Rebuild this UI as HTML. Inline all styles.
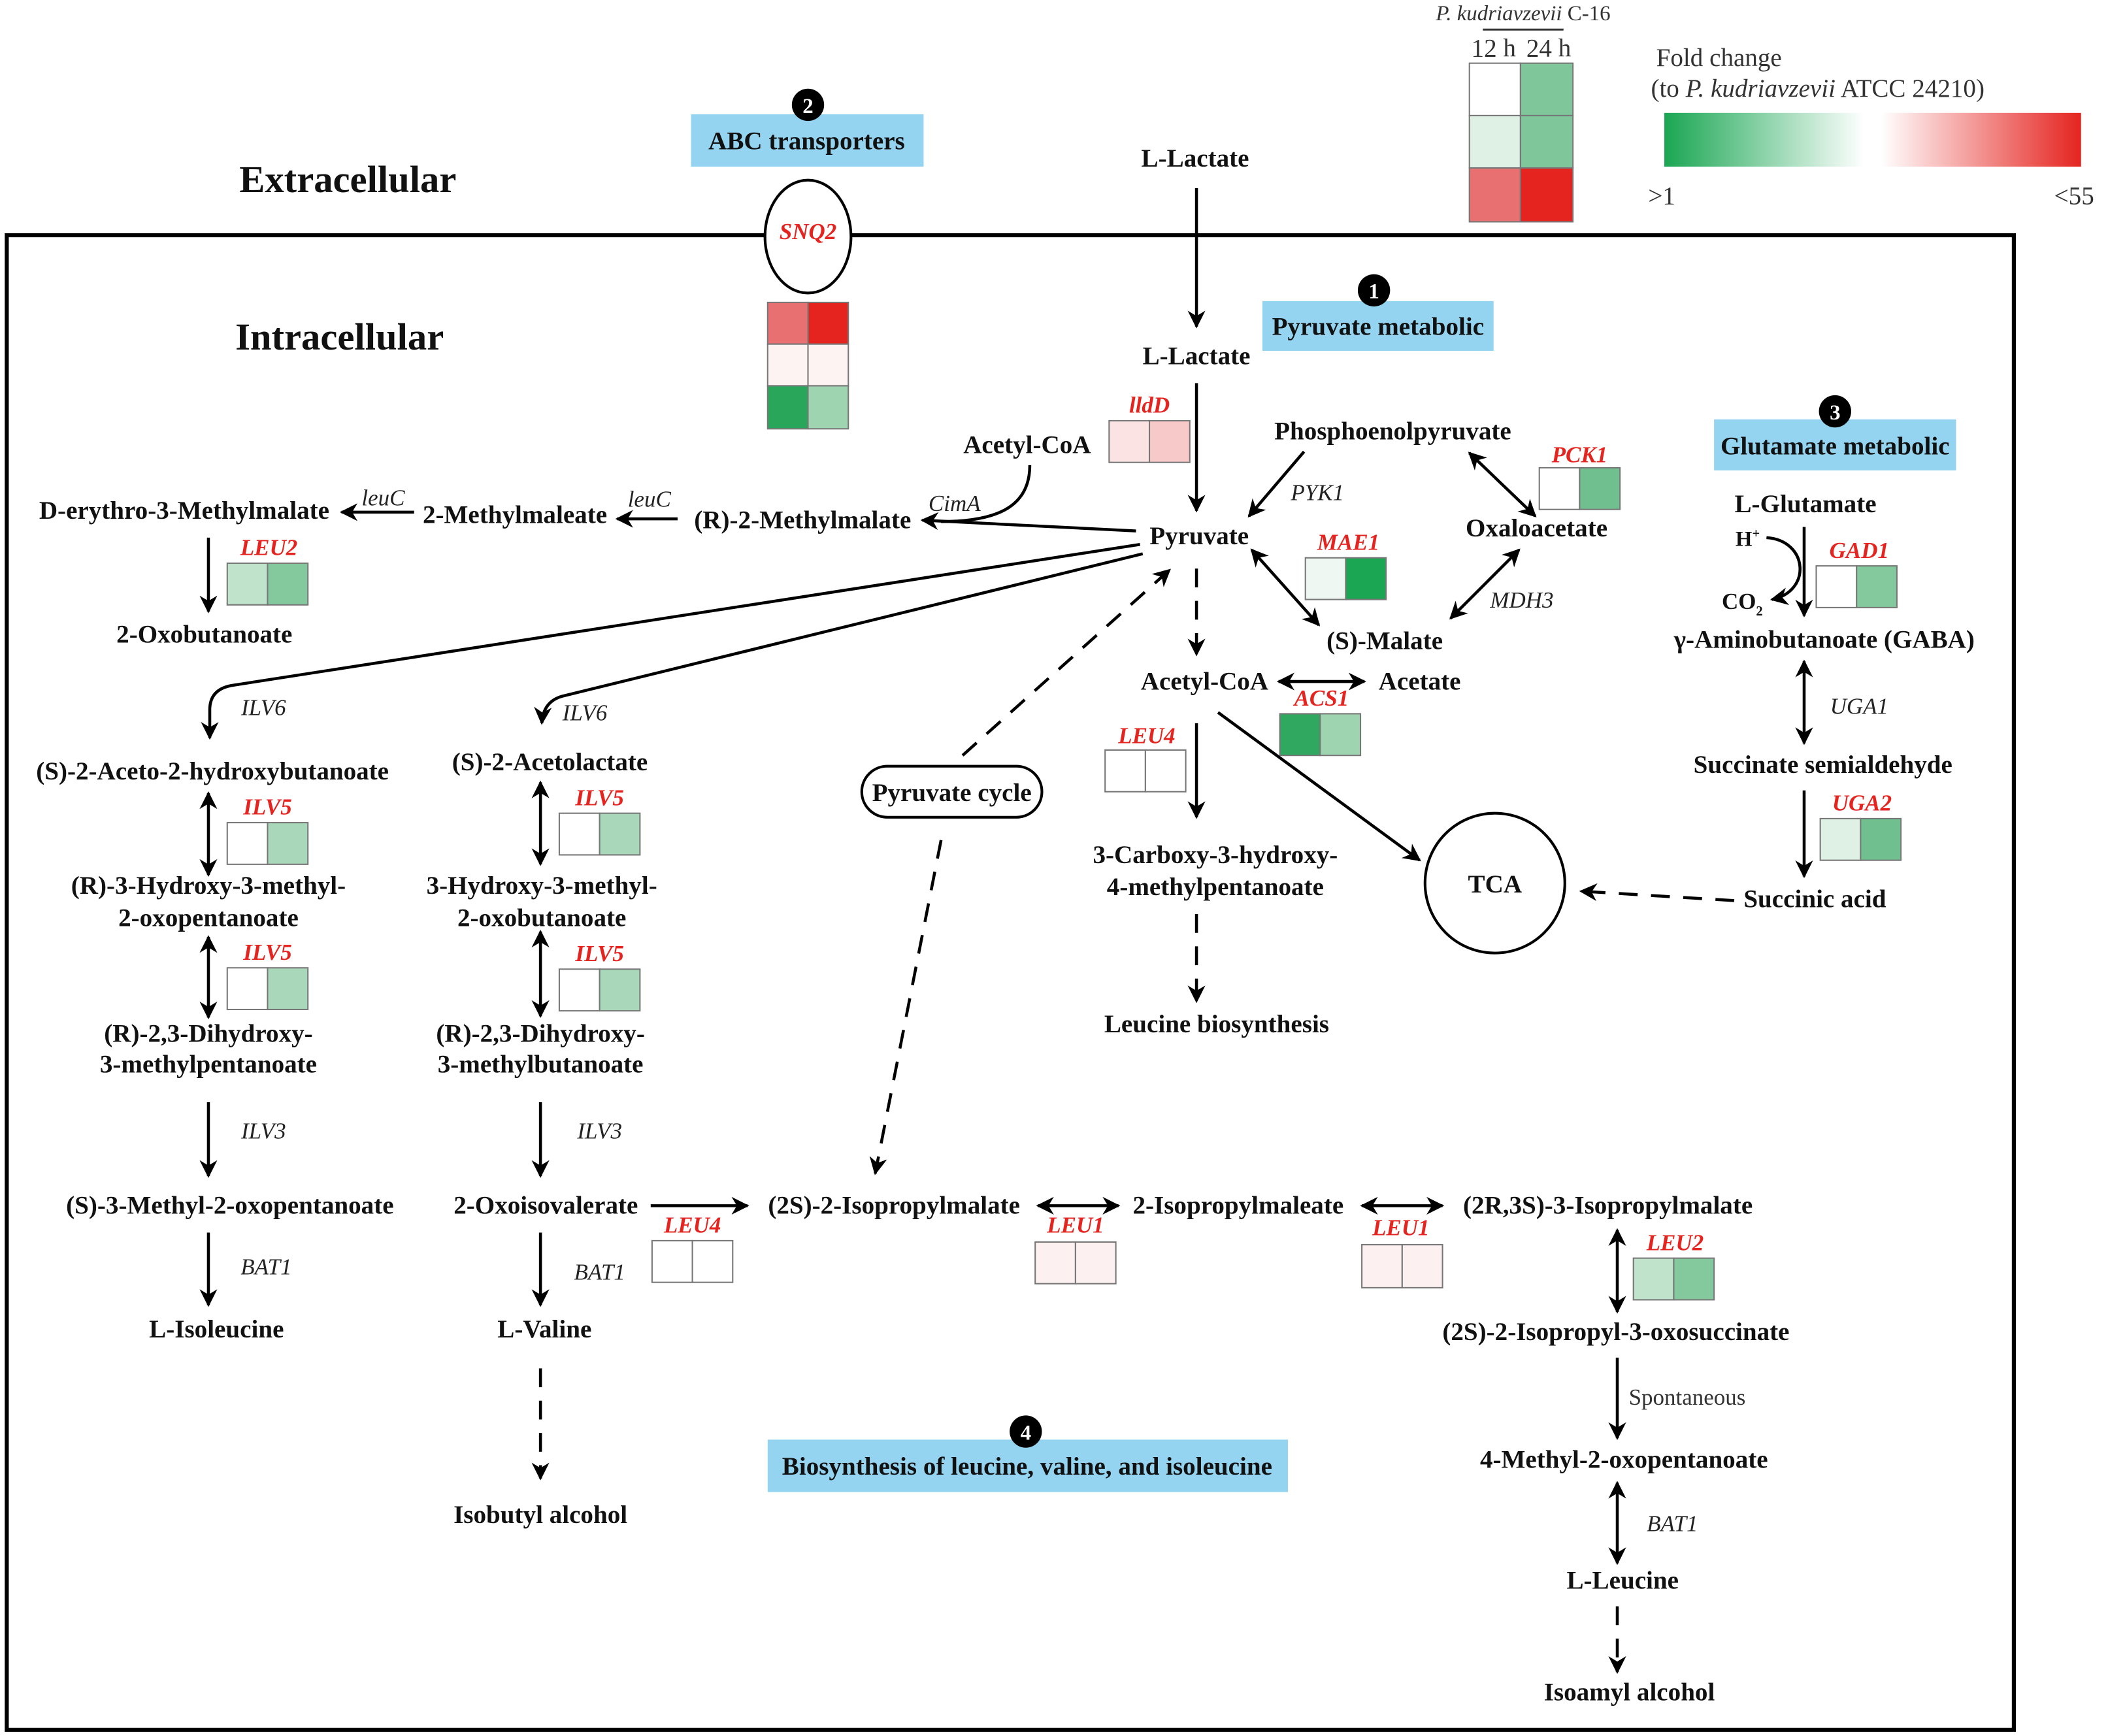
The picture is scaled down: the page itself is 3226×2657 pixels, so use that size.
<!DOCTYPE html>
<html><head><meta charset="utf-8"><style>
html,body{margin:0;padding:0;background:#fff}
svg{display:block}
.t{font-family:"Liberation Serif",serif;font-weight:bold;font-size:19px;fill:#111;text-anchor:middle}
.g{font-family:"Liberation Serif",serif;font-style:italic;font-weight:bold;font-size:17px;fill:#e52420;text-anchor:middle}
.e{font-family:"Liberation Serif",serif;font-style:italic;font-size:17px;fill:#222;text-anchor:middle}
.n{font-family:"Liberation Serif",serif;font-size:19px;fill:#333}
.w{font-family:"Liberation Serif",serif;font-weight:bold;font-size:16px;fill:#fff;text-anchor:middle}
.c{stroke:#777;stroke-width:1}
.l{stroke:#000;stroke-width:2.2;fill:none}
.d{stroke:#000;stroke-width:2.2;fill:none;stroke-dasharray:14 10}
</style></head><body>
<svg width="3226" height="2657" viewBox="0 0 1568 1291.5" xmlns="http://www.w3.org/2000/svg">
<defs>
<marker id="a" viewBox="0 0 10 10" refX="9" refY="5" markerWidth="6" markerHeight="6" orient="auto-start-reverse" markerUnits="strokeWidth"><path d="M0,0 L10,5 L0,10 L3,5z" fill="#000"/></marker>
<linearGradient id="fc" x1="0" x2="1"><stop offset="0" stop-color="#1aa653"/><stop offset="0.48" stop-color="#fff"/><stop offset="0.52" stop-color="#fff"/><stop offset="1" stop-color="#e52420"/></linearGradient>
</defs>
<rect x="0" y="0" width="1568" height="1291.5" fill="#fff"/>
<rect x="5" y="175" width="1493" height="1112" fill="none" stroke="#000" stroke-width="3"/>

<!-- legend -->
<text x="1133" y="15" class="n" style="font-size:16px;text-anchor:middle"><tspan font-style="italic">P. kudriavzevii</tspan> C-16</text>
<line x1="1103" y1="22" x2="1163" y2="22" stroke="#333" stroke-width="1.5"/>
<text x="1111" y="42" class="n" style="font-size:19px;text-anchor:middle">12 h</text>
<text x="1152" y="42" class="n" style="font-size:19px;text-anchor:middle">24 h</text>
<rect x="1093" y="47" width="38" height="39" fill="#fff" class="c"/><rect x="1131" y="47" width="39" height="39" fill="#7fc79a" class="c"/>
<rect x="1093" y="86" width="38" height="39" fill="#dff0e5" class="c"/><rect x="1131" y="86" width="39" height="39" fill="#7fc79a" class="c"/>
<rect x="1093" y="125" width="38" height="40" fill="#e87070" class="c"/><rect x="1131" y="125" width="39" height="40" fill="#e52420" class="c"/>
<text x="1232" y="49" class="n">Fold change</text>
<text x="1228" y="72" class="n">(to <tspan font-style="italic">P. kudriavzevii</tspan> ATCC 24210)</text>
<rect x="1238" y="84" width="310" height="40" fill="url(#fc)"/>
<text x="1226" y="152" class="n">&gt;1</text>
<text x="1528" y="152" class="n">&lt;55</text>

<text x="178" y="143" class="t" style="font-size:28.5px;text-anchor:start">Extracellular</text>
<text x="175" y="260" class="t" style="font-size:28.5px;text-anchor:start">Intracellular</text>

<!-- ABC -->
<rect x="514" y="85" width="173" height="39" fill="#94d4f0"/>
<text x="600" y="111" class="t">ABC transporters</text>
<circle cx="601" cy="78" r="12" fill="#000"/><text x="601" y="84" class="w">2</text>
<ellipse cx="601" cy="176" rx="32" ry="42" fill="#fff" stroke="#000" stroke-width="2"/>
<text x="601" y="178" class="g">SNQ2</text>
<rect x="571" y="225" width="30" height="31" fill="#e87070" class="c"/><rect x="601" y="225" width="30" height="31" fill="#e52420" class="c"/>
<rect x="571" y="256" width="30" height="31" fill="#fdf3f3" class="c"/><rect x="601" y="256" width="30" height="31" fill="#fdf3f3" class="c"/>
<rect x="571" y="287" width="30" height="32" fill="#2aa65a" class="c"/><rect x="601" y="287" width="30" height="32" fill="#9fd4b1" class="c"/>

<!-- lactate/pyruvate -->
<text x="889" y="124" class="t">L-Lactate</text>
<line x1="890" y1="140" x2="890" y2="243" class="l" marker-end="url(#a)"/>
<text x="890" y="271" class="t">L-Lactate</text>
<line x1="890" y1="285" x2="890" y2="380" class="l" marker-end="url(#a)"/>
<rect x="939" y="224" width="172" height="37" fill="#94d4f0"/>
<text x="1025" y="249" class="t">Pyruvate metabolic</text>
<circle cx="1022" cy="216" r="12" fill="#000"/><text x="1022" y="222" class="w">1</text>
<text x="892" y="405" class="t">Pyruvate</text>
<text x="764" y="337" class="t">Acetyl-CoA</text>
<text x="855" y="307" class="g">lldD</text>
<rect x="825" y="313" width="30" height="31" fill="#fbe3e3" class="c"/><rect x="855" y="313" width="30" height="31" fill="#f7c9c9" class="c"/>
<path d="M766,346 C766,375 745,388 700,388" class="l"/>
<text x="710" y="380" class="e">CimA</text>
<line x1="845" y1="395" x2="686" y2="387" class="l" marker-end="url(#a)"/>
<text x="597" y="393" class="t">(R)-2-Methylmalate</text>
<line x1="504" y1="386" x2="459" y2="386" class="l" marker-end="url(#a)"/>
<text x="483" y="377" class="e">leuC</text>
<text x="383" y="389" class="t">2-Methylmaleate</text>
<line x1="308" y1="381" x2="254" y2="381" class="l" marker-end="url(#a)"/>
<text x="285" y="376" class="e">leuC</text>
<text x="137" y="386" class="t">D-erythro-3-Methylmalate</text>

<!-- column 1 -->
<line x1="155" y1="400" x2="155" y2="455" class="l" marker-end="url(#a)"/>
<text x="200" y="413" class="g">LEU2</text>
<rect x="169" y="419" width="30" height="31" fill="#c0e3cc" class="c"/><rect x="199" y="419" width="30" height="31" fill="#84c99d" class="c"/>
<text x="152" y="478" class="t">2-Oxobutanoate</text>
<path d="M848,405 L172,510 Q156,513 156,528 L156,549" class="l" marker-end="url(#a)"/>
<text x="196" y="532" class="e">ILV6</text>
<text x="158" y="580" class="t">(S)-2-Aceto-2-hydroxybutanoate</text>
<line x1="155" y1="590" x2="155" y2="651" class="l" marker-start="url(#a)" marker-end="url(#a)"/>
<text x="199" y="606" class="g">ILV5</text>
<rect x="169" y="612" width="30" height="31" fill="#fff" class="c"/><rect x="199" y="612" width="30" height="31" fill="#a8d8b9" class="c"/>
<text x="155" y="665" class="t">(R)-3-Hydroxy-3-methyl-</text>
<text x="155" y="689" class="t">2-oxopentanoate</text>
<line x1="155" y1="697" x2="155" y2="757" class="l" marker-start="url(#a)" marker-end="url(#a)"/>
<text x="199" y="714" class="g">ILV5</text>
<rect x="169" y="720" width="30" height="31" fill="#fff" class="c"/><rect x="199" y="720" width="30" height="31" fill="#a8d8b9" class="c"/>
<text x="155" y="775" class="t">(R)-2,3-Dihydroxy-</text>
<text x="155" y="798" class="t">3-methylpentanoate</text>
<line x1="155" y1="820" x2="155" y2="875" class="l" marker-end="url(#a)"/>
<text x="196" y="847" class="e">ILV3</text>
<text x="171" y="903" class="t">(S)-3-Methyl-2-oxopentanoate</text>
<line x1="155" y1="917" x2="155" y2="971" class="l" marker-end="url(#a)"/>
<text x="198" y="948" class="e">BAT1</text>
<text x="161" y="995" class="t">L-Isoleucine</text>

<!-- column 2 -->
<path d="M850,412 L418,518 Q404,522 403,538" class="l" marker-end="url(#a)"/>
<text x="435" y="536" class="e">ILV6</text>
<text x="409" y="573" class="t">(S)-2-Acetolactate</text>
<line x1="402" y1="582" x2="402" y2="643" class="l" marker-start="url(#a)" marker-end="url(#a)"/>
<text x="446" y="599" class="g">ILV5</text>
<rect x="416" y="605" width="30" height="31" fill="#fff" class="c"/><rect x="446" y="605" width="30" height="31" fill="#a8d8b9" class="c"/>
<text x="403" y="665" class="t">3-Hydroxy-3-methyl-</text>
<text x="403" y="689" class="t">2-oxobutanoate</text>
<line x1="402" y1="693" x2="402" y2="756" class="l" marker-start="url(#a)" marker-end="url(#a)"/>
<text x="446" y="715" class="g">ILV5</text>
<rect x="416" y="721" width="30" height="31" fill="#fff" class="c"/><rect x="446" y="721" width="30" height="31" fill="#a8d8b9" class="c"/>
<text x="402" y="775" class="t">(R)-2,3-Dihydroxy-</text>
<text x="402" y="798" class="t">3-methylbutanoate</text>
<line x1="402" y1="820" x2="402" y2="875" class="l" marker-end="url(#a)"/>
<text x="446" y="847" class="e">ILV3</text>
<text x="406" y="903" class="t">2-Oxoisovalerate</text>
<line x1="484" y1="897" x2="556" y2="897" class="l" marker-end="url(#a)"/>
<text x="515" y="917" class="g">LEU4</text>
<rect x="485" y="923" width="30" height="31" fill="#fff" class="c"/><rect x="515" y="923" width="30" height="31" fill="#fff" class="c"/>
<line x1="402" y1="917" x2="402" y2="971" class="l" marker-end="url(#a)"/>
<text x="446" y="952" class="e">BAT1</text>
<text x="405" y="995" class="t">L-Valine</text>
<line x1="402" y1="1018" x2="402" y2="1100" class="d" marker-end="url(#a)"/>
<text x="402" y="1133" class="t">Isobutyl alcohol</text>

<!-- pyruvate cycle -->
<rect x="641" y="570" width="134" height="38" rx="19" fill="#fff" stroke="#000" stroke-width="2"/>
<text x="708" y="596" class="t">Pyruvate cycle</text>
<line x1="716" y1="562" x2="870" y2="424" class="d" marker-end="url(#a)"/>
<line x1="700" y1="625" x2="651" y2="873" class="d" marker-end="url(#a)"/>

<!-- leucine row -->
<text x="665" y="903" class="t">(2S)-2-Isopropylmalate</text>
<line x1="772" y1="897" x2="832" y2="897" class="l" marker-start="url(#a)" marker-end="url(#a)"/>
<text x="800" y="917" class="g">LEU1</text>
<rect x="770" y="924" width="30" height="31" fill="#fdf0f0" class="c"/><rect x="800" y="924" width="30" height="31" fill="#fdf0f0" class="c"/>
<text x="921" y="903" class="t">2-Isopropylmaleate</text>
<line x1="1013" y1="897" x2="1073" y2="897" class="l" marker-start="url(#a)" marker-end="url(#a)"/>
<text x="1042" y="919" class="g">LEU1</text>
<rect x="1013" y="926" width="30" height="32" fill="#fdf0f0" class="c"/><rect x="1043" y="926" width="30" height="32" fill="#fdf0f0" class="c"/>
<text x="1196" y="903" class="t">(2R,3S)-3-Isopropylmalate</text>
<line x1="1203" y1="915" x2="1203" y2="976" class="l" marker-start="url(#a)" marker-end="url(#a)"/>
<text x="1246" y="930" class="g">LEU2</text>
<rect x="1215" y="936" width="30" height="31" fill="#c0e3cc" class="c"/><rect x="1245" y="936" width="30" height="31" fill="#84c99d" class="c"/>
<text x="1202" y="997" class="t">(2S)-2-Isopropyl-3-oxosuccinate</text>
<line x1="1203" y1="1010" x2="1203" y2="1070" class="l" marker-end="url(#a)"/>
<text x="1255" y="1045" class="n" style="font-size:17px;text-anchor:middle">Spontaneous</text>
<text x="1208" y="1092" class="t">4-Methyl-2-oxopentanoate</text>
<line x1="1203" y1="1103" x2="1203" y2="1163" class="l" marker-start="url(#a)" marker-end="url(#a)"/>
<text x="1244" y="1139" class="e">BAT1</text>
<text x="1207" y="1182" class="t">L-Leucine</text>
<line x1="1203" y1="1195" x2="1203" y2="1244" class="d" marker-end="url(#a)"/>
<text x="1212" y="1265" class="t">Isoamyl alcohol</text>

<rect x="571" y="1071" width="387" height="39" fill="#94d4f0"/>
<text x="764" y="1097" class="t">Biosynthesis of leucine, valine, and isoleucine</text>
<circle cx="763" cy="1065" r="12" fill="#000"/><text x="763" y="1071" class="w">4</text>

<!-- acetyl-coa branch -->
<line x1="890" y1="423" x2="890" y2="487" class="d" marker-end="url(#a)"/>
<text x="896" y="513" class="t">Acetyl-CoA</text>
<line x1="951" y1="507" x2="1015" y2="507" class="l" marker-start="url(#a)" marker-end="url(#a)"/>
<text x="1056" y="513" class="t">Acetate</text>
<text x="983" y="525" class="g">ACS1</text>
<rect x="952" y="531" width="30" height="31" fill="#30a860" class="c"/><rect x="982" y="531" width="30" height="31" fill="#9fd4b1" class="c"/>
<text x="853" y="553" class="g">LEU4</text>
<rect x="822" y="558" width="30" height="31" fill="#fff" class="c"/><rect x="852" y="558" width="30" height="31" fill="#fff" class="c"/>
<line x1="890" y1="538" x2="890" y2="608" class="l" marker-end="url(#a)"/>
<text x="904" y="642" class="t">3-Carboxy-3-hydroxy-</text>
<text x="904" y="666" class="t">4-methylpentanoate</text>
<line x1="890" y1="680" x2="890" y2="745" class="d" marker-end="url(#a)"/>
<text x="905" y="768" class="t">Leucine biosynthesis</text>
<line x1="906" y1="530" x2="1056" y2="640" class="l" marker-end="url(#a)"/>
<circle cx="1112" cy="657" r="52" fill="#fff" stroke="#000" stroke-width="2"/>
<text x="1112" y="664" class="t">TCA</text>
<line x1="1290" y1="670" x2="1176" y2="663" class="d" marker-end="url(#a)"/>
<text x="1350" y="675" class="t">Succinic acid</text>

<!-- PEP/oxaloacetate/malate -->
<text x="1036" y="327" class="t">Phosphoenolpyruvate</text>
<line x1="970" y1="336" x2="929" y2="384" class="l" marker-end="url(#a)"/>
<text x="980" y="372" class="e">PYK1</text>
<line x1="1093" y1="337" x2="1142" y2="384" class="l" marker-start="url(#a)" marker-end="url(#a)"/>
<text x="1175" y="344" class="g">PCK1</text>
<rect x="1145" y="348" width="30" height="31" fill="#fff" class="c"/><rect x="1175" y="348" width="30" height="31" fill="#6fc08e" class="c"/>
<text x="1143" y="399" class="t">Oxaloacetate</text>
<line x1="1130" y1="409" x2="1079" y2="460" class="l" marker-start="url(#a)" marker-end="url(#a)"/>
<text x="1132" y="452" class="e">MDH3</text>
<text x="1030" y="483" class="t">(S)-Malate</text>
<line x1="931" y1="409" x2="981" y2="465" class="l" marker-start="url(#a)" marker-end="url(#a)"/>
<text x="1003" y="409" class="g">MAE1</text>
<rect x="971" y="415" width="30" height="31" fill="#eef7f1" class="c"/><rect x="1001" y="415" width="30" height="31" fill="#1aa653" class="c"/>

<!-- glutamate -->
<rect x="1275" y="312" width="180" height="38" fill="#94d4f0"/>
<text x="1365" y="338" class="t">Glutamate metabolic</text>
<circle cx="1365" cy="306" r="12" fill="#000"/><text x="1365" y="312" class="w">3</text>
<text x="1343" y="381" class="t">L-Glutamate</text>
<line x1="1342" y1="392" x2="1342" y2="458" class="l" marker-end="url(#a)"/>
<text x="1300" y="406" class="t" style="font-size:16px">H<tspan style="font-size:10px" dy="-6">+</tspan></text>
<path d="M1314,400 C1345,402 1348,440 1318,446" class="l" marker-end="url(#a)"/>
<text x="1296" y="453" class="t" style="font-size:17px">CO<tspan style="font-size:10px" dy="5">2</tspan></text>
<text x="1383" y="415" class="g">GAD1</text>
<rect x="1351" y="421" width="30" height="31" fill="#fff" class="c"/><rect x="1381" y="421" width="30" height="31" fill="#84c99d" class="c"/>
<text x="1357" y="482" class="t">γ-Aminobutanoate (GABA)</text>
<line x1="1342" y1="492" x2="1342" y2="553" class="l" marker-start="url(#a)" marker-end="url(#a)"/>
<text x="1383" y="531" class="e">UGA1</text>
<text x="1356" y="575" class="t">Succinate semialdehyde</text>
<line x1="1342" y1="588" x2="1342" y2="652" class="l" marker-end="url(#a)"/>
<text x="1385" y="603" class="g">UGA2</text>
<rect x="1354" y="609" width="30" height="31" fill="#dff0e4" class="c"/><rect x="1384" y="609" width="30" height="31" fill="#6fc08e" class="c"/>
</svg>
</body></html>
